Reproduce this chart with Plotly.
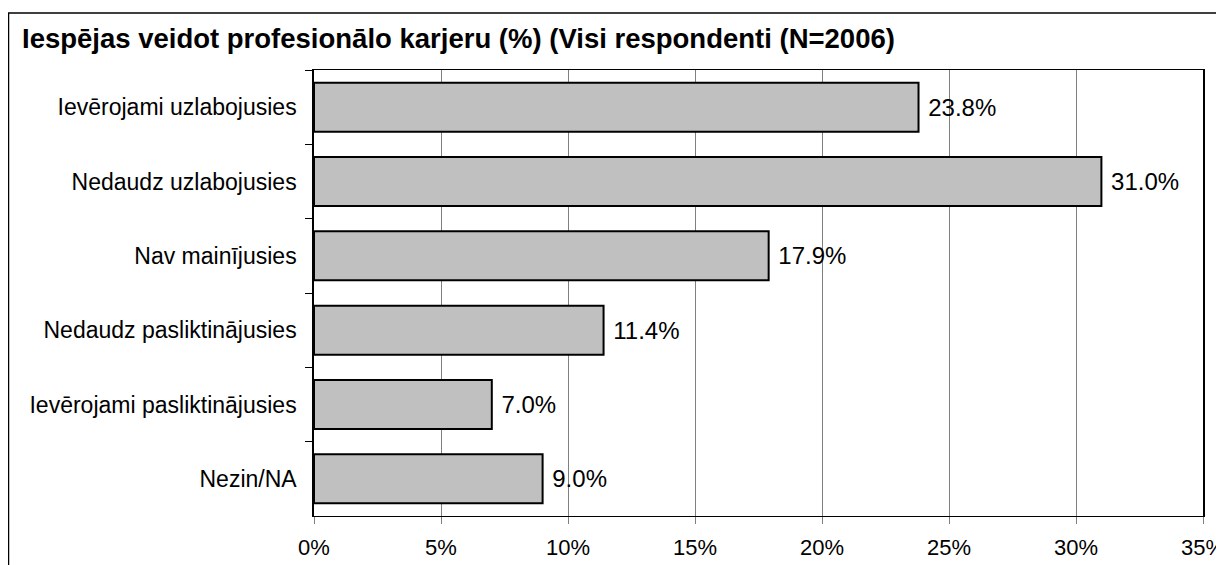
import plotly.graph_objects as go

categories = ["Ievērojami uzlabojusies", "Nedaudz uzlabojusies", "Nav mainījusies",
              "Nedaudz pasliktinājusies", "Ievērojami pasliktinājusies", "Nezin/NA"]
values = [23.8, 31.0, 17.9, 11.4, 7.0, 9.0]
value_labels = ["23.8%", "31.0%", "17.9%", "11.4%", "7.0%", "9.0%"]
x_tickvals = [0, 5, 10, 15, 20, 25, 30, 35]
x_ticktext = ["0%", "5%", "10%", "15%", "20%", "25%", "30%", "35%"]
title_text = "Iespējas veidot profesionālo karjeru (%) (Visi respondenti (N=2006)"

FONT = "Arial, Liberation Sans, sans-serif"

fig = go.Figure(go.Bar(
    x=values, y=categories, orientation="h",
    marker=dict(color="#C0C0C0", line=dict(color="black", width=2)),
    text=[" " + t for t in value_labels], textposition="outside", constraintext="none",
    textfont=dict(family=FONT, size=24, color="black"),
    cliponaxis=False, width=0.66,
))

# page body has an 8px margin; figure coordinates are page coordinates minus 8
W, H = 1216, 557
L, R, T, B = 306, 1195, 62, 508
fig.update_layout(
    width=W, height=H,
    margin=dict(l=L, r=W - R, t=T, b=H - B, autoexpand=False),
    paper_bgcolor="white", plot_bgcolor="white",
    showlegend=False,
    title=dict(text="<b>" + title_text + "</b>", xref="container", yref="container",
               x=14 / W, xanchor="left", y=1 - 30 / H, yanchor="middle",
               font=dict(family=FONT, size=27.5, color="black")),
    font=dict(family=FONT, size=22, color="black"),
    xaxis=dict(range=[0, 35], tickvals=x_tickvals, ticktext=x_ticktext,
               showgrid=True, gridcolor="#808080", gridwidth=1,
               showline=True, linecolor="black", linewidth=1, mirror=True,
               ticks="outside", ticklen=7, tickcolor="#808080",
               ticklabelstandoff=5, ticklabeloverflow="allow",
               tickfont=dict(family=FONT, size=22, color="black"), zeroline=False,
               fixedrange=True),
    yaxis=dict(autorange="reversed", type="category", tickson="boundaries",
               showgrid=False, showline=True, linecolor="black", linewidth=1.5, mirror=True,
               ticks="outside", ticklen=7, tickcolor="black",
               ticklabelstandoff=11,
               tickfont=dict(family=FONT, size=23, color="black"), fixedrange=True),
    shapes=[dict(type="rect", xref="paper", yref="paper",
                 x0=(0.5 - L) / (R - L), x1=(1240 - L) / (R - L),
                 y0=(B - 580) / (B - T), y1=(B - 5) / (B - T),
                 line=dict(color="black", width=1.5), fillcolor="rgba(0,0,0,0)",
                 layer="below")],
)

fig.write_html("out.html")
